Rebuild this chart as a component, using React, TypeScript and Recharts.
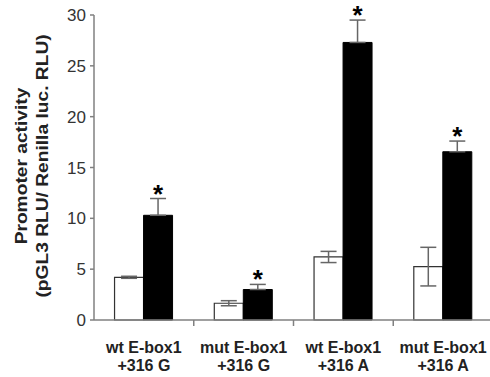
import React from 'react';
import { BarChart, Bar, XAxis, YAxis, ErrorBar, LabelList } from 'recharts';

const constructs = ['wt E-box1', 'mut E-box1', 'wt E-box1', 'mut E-box1'];
const variants = ['+316 G', '+316 G', '+316 A', '+316 A'];
const openValues = [4.2, 1.65, 6.2, 5.25];
const openErrors = [0.1, 0.25, 0.55, 1.9];
const filledValues = [10.3, 3.0, 27.3, 16.55];
const filledErrors = [1.65, 0.5, 2.2, 1.05];
const significant = [true, true, true, true];
const yTicks = [0, 5, 10, 15, 20, 25, 30];

const CHART_W = 493;
const CHART_H = 377;
const Y_AXIS_W = 94;
const FONT = '"Liberation Sans", Arial, sans-serif';

const data = constructs.map((c, i) => ({
  name: `${c} ${variants[i]}`,
  open: openValues[i],
  openErr: openErrors[i],
  filled: filledValues[i],
  // only the upper whisker shows above a black bar
  filledErr: [0, filledErrors[i]],
}));

const halfBand = (CHART_W - Y_AXIS_W) / constructs.length / 2;

const CategoryTick = (props: any) => {
  const { x, y, payload, index } = props;
  const i = payload?.index ?? index;
  return (
    <g>
      {i > 0 && <line x1={x - halfBand} x2={x - halfBand} y1={y} y2={y + 6} stroke="#808080" strokeWidth={1.5} />}
      <text x={x} y={y} textAnchor="middle" fontFamily={FONT} fontWeight="bold" fontSize={16} fill="#222">
        <tspan x={x} dy={33}>{constructs[i]}</tspan>
        <tspan x={x} dy={18}>{variants[i]}</tspan>
      </text>
    </g>
  );
};

const Star = (props: any) => {
  const { x, y, width, height, value, index } = props;
  if (!significant[index] || !value) return null;
  const errPx = (filledErrors[index] * height) / value;
  return (
    <text x={x + width / 2} y={y - errPx + 4} textAnchor="middle" fontFamily={FONT} fontWeight="bold" fontSize={26} fill="#000">
      *
    </text>
  );
};

const YTitle = () => (
  <g fontFamily={FONT} fontWeight="bold" fontSize={16} fill="#222" textAnchor="middle">
    <text transform="translate(27,166) rotate(-90) scale(1.2,1)">Promoter activity</text>
    <text transform="translate(48,166) rotate(-90) scale(1.2,1)">(pGL3 RLU/ Renilla luc. RLU)</text>
  </g>
);

export default function App() {
  return (
    <div style={{ position: 'absolute', left: 0, top: 0, width: 490, height: 377, overflow: 'hidden', background: '#fff' }}>
      <BarChart
        width={CHART_W}
        height={CHART_H}
        data={data}
        margin={{ top: 15, right: 0, bottom: 0, left: 0 }}
        barCategoryGap="20.6%"
        barGap={0}
      >
        <XAxis
          dataKey="name"
          height={57}
          axisLine={{ stroke: '#808080', strokeWidth: 1.5 }}
          tickLine={false}
          tickSize={0}
          tickMargin={0}
          interval={0}
          tick={<CategoryTick />}
        />
        <YAxis
          width={Y_AXIS_W}
          domain={[0, 30]}
          ticks={yTicks}
          interval={0}
          axisLine={{ stroke: '#808080', strokeWidth: 1.5 }}
          tickLine={{ stroke: '#808080', strokeWidth: 1.5 }}
          tickSize={4}
          tickMargin={4}
          tick={{ fontFamily: FONT, fontSize: 17, fill: '#333' }}
          label={{ content: () => <YTitle /> }}
        />
        <Bar dataKey="open" fill="#fff" stroke="#333" strokeWidth={1.2} isAnimationActive={false}>
          <ErrorBar dataKey="openErr" width={8} stroke="#666" strokeWidth={1.5} direction="y" />
        </Bar>
        <Bar dataKey="filled" fill="#000" stroke="#000" strokeWidth={1} isAnimationActive={false}>
          <ErrorBar dataKey="filledErr" width={8} stroke="#666" strokeWidth={1.5} direction="y" />
          <LabelList dataKey="filled" content={<Star />} />
        </Bar>
      </BarChart>
    </div>
  );
}
